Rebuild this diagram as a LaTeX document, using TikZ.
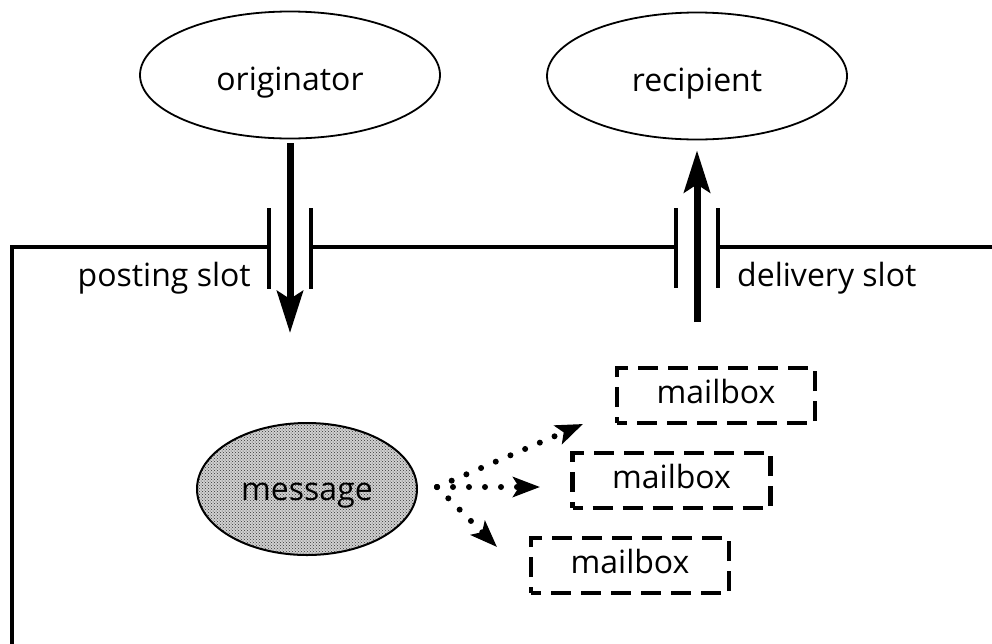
\documentclass[tikz,border=0pt]{standalone}
\usepackage{fontspec}
\setmainfont{Open Sans}
\usetikzlibrary{arrows.meta,patterns,shapes.geometric}
\begin{document}
\begin{tikzpicture}[x=1pt,y=-1pt,
  font=\fontsize{32}{38}\selectfont,
  oval/.style={draw, line width=1.8pt, ellipse, inner sep=0pt,
    minimum width=300pt, minimum height=127pt, text height=30pt, text depth=0pt},
  msgoval/.style={draw, line width=2pt, ellipse, inner sep=0pt,
    minimum width=220pt, minimum height=132pt, text height=22pt, text depth=0pt,
    preaction={fill=black!18}, pattern=crosshatch dots, pattern color=black!80},
  mailboxnode/.style={draw, rectangle, line width=4.5pt, dash pattern=on 20pt off 10pt,
    dash phase=10pt, inner sep=0pt, minimum width=198pt, minimum height=55pt,
    text height=15pt, text depth=0pt},
  frameline/.style={line width=3.5pt},
  slotbar/.style={line width=4.5pt},
  bigarrow/.style={line width=7pt, -{Stealth[length=42pt,width=26pt,inset=8pt]}},
  dotarrow/.style={line width=6pt, line cap=round, dash pattern=on 0pt off 16pt,
    -{Stealth[length=27pt,width=20pt,inset=6pt]}}
]
\useasboundingbox (0,0) rectangle (992,643);

% frame and slots
\draw[frameline] (12,645) -- (12,247) -- (269,247);
\draw[frameline] (311,247) -- (676,247);
\draw[frameline] (718,247) -- (995,247);
\draw[slotbar] (269,208) -- (269,289);
\draw[slotbar] (311,208) -- (311,289);
\draw[slotbar] (676,208) -- (676,288);
\draw[slotbar] (718,208) -- (718,288);

% nodes
\node[oval] (orig) at (290,75) {originator};
\node[oval] (recip) at (697,76) {recipient};
\node[msgoval] (msg) at (307,489) {message};
\node[mailboxnode] (mb1) at (716,395.5) {mailbox};
\node[mailboxnode] (mb2) at (671.5,480.5) {mailbox};
\node[mailboxnode] (mb3) at (630,565.5) {mailbox};

\node[anchor=base east, inner sep=0pt] (post) at (251,286) {posting slot};
\node[anchor=base west, inner sep=0pt] (deliv) at (737,286) {delivery slot};

% slot arrows
\coordinate (postend) at (290,333);
\coordinate (delstart) at (697,322);
\draw[bigarrow, shorten <=4pt] (orig) -- (postend);
\draw[bigarrow, shorten >=10pt] (delstart) -- (recip);

% distribution arrows
\coordinate (fan) at (437,487);
\coordinate (tipa) at (583,424);
\coordinate (tipb) at (540,487);
\coordinate (tipc) at (497,547);
\draw[dotarrow] (fan) -- (tipa);
\draw[dotarrow] (fan) -- (tipb);
\draw[dotarrow] (fan) -- (tipc);
\end{tikzpicture}
\end{document}
